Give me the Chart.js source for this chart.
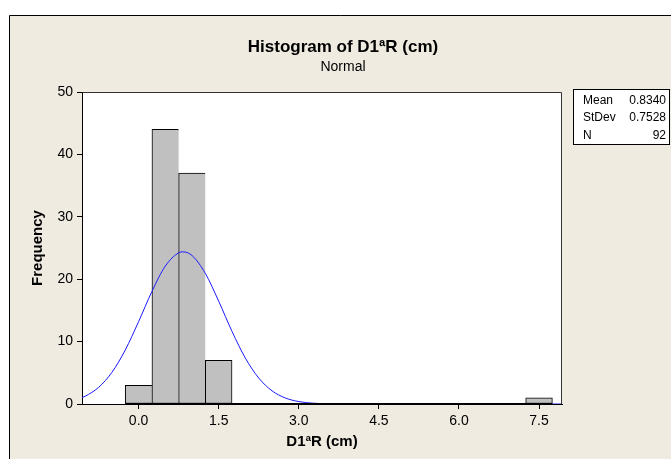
<!DOCTYPE html>
<html><head><meta charset="utf-8">
<script src="https://cdn.jsdelivr.net/npm/chart.js@4.4.1/dist/chart.umd.min.js"></script>
<style>html,body{margin:0;padding:0;background:#fff}canvas{display:block}</style>
</head><body>
<canvas id="c" width="671" height="459"></canvas>
<script>
const binCenters = [0.0,0.5,1.0,1.5,2.0,2.5,3.0,3.5,4.0,4.5,5.0,5.5,6.0,6.5,7.0,7.5];
const frequencies = [3,44,37,7,0,0,0,0,0,0,0,0,0,0,0,1];
const binWidth = 0.5;
const xTicks = [0.0,1.5,3.0,4.5,6.0,7.5];
const yTicks = [0,10,20,30,40,50];
const curveX = [-1.1,-1.0,-0.75,-0.5,-0.25,0.0,0.25,0.5,0.75,0.834,1.0,1.25,1.5,1.75,2.0,2.25,2.5,2.75,3.0,3.25,3.5,3.75,4.0,8.0];
const curveY = [0.90,1.25,2.66,5.07,8.65,13.20,18.04,22.10,24.23,24.38,23.80,20.93,16.48,11.63,7.35,4.16,2.11,0.96,0.39,0.14,0.05,0.01,0,0];
const statLabels = ['Mean','StDev','N'];
const statValues = ['0.8340','0.7528','92'];
const titleText = 'Histogram of D1ªR (cm)';
const subtitleText = 'Normal';
const xTitle = 'D1ªR (cm)';
const yTitle = 'Frequency';

const FONT = "'Liberation Sans', Arial, sans-serif";
const BG = '#efebe1';

const framePlugin = {
  id: 'frame',
  beforeDraw(chart) {
    const {ctx, width, height, chartArea: a} = chart;
    ctx.save();
    ctx.fillStyle = '#fff';
    ctx.fillRect(0, 0, width, height);
    ctx.fillStyle = BG;
    ctx.fillRect(9, 15, width, height);
    ctx.strokeStyle = '#000';
    ctx.lineWidth = 1;
    ctx.beginPath();
    ctx.moveTo(9.5, height); ctx.lineTo(9.5, 15.5); ctx.lineTo(width, 15.5);
    ctx.stroke();
    ctx.fillStyle = '#fff';
    ctx.fillRect(a.left, a.top, a.right - a.left, a.bottom - a.top);
    ctx.restore();
  },
  afterDatasetsDraw(chart) {
    const {ctx, chartArea: a, scales: {x, y}} = chart;
    ctx.save();
    const y0 = Math.round(y.getPixelForValue(0)) - 0.5;
    ctx.strokeStyle = '#000';
    ctx.lineWidth = 1;
    ctx.beginPath();
    ctx.moveTo(x.getPixelForValue(binCenters[0] - binWidth / 2), y0);
    ctx.lineTo(x.getPixelForValue(binCenters[binCenters.length - 1] + binWidth / 2), y0);
    ctx.stroke();
    ctx.strokeStyle = '#333';
    ctx.beginPath();
    ctx.moveTo(Math.round(a.left) + 0.5, Math.round(a.top) + 0.5);
    ctx.lineTo(Math.round(a.right) - 0.5, Math.round(a.top) + 0.5);
    ctx.lineTo(Math.round(a.right) - 0.5, Math.round(a.bottom));
    ctx.stroke();
    const bx = 573.5, by = 89.5, bw = 96, bh = 55;
    ctx.fillStyle = '#fff';
    ctx.fillRect(bx, by, bw, bh);
    ctx.strokeStyle = '#000';
    ctx.strokeRect(bx, by, bw, bh);
    ctx.fillStyle = '#000';
    ctx.font = '12px ' + FONT;
    ctx.textBaseline = 'middle';
    statLabels.forEach((lab, i) => {
      const ty = 100.5 + i * 17.5;
      ctx.textAlign = 'left';
      ctx.fillText(lab, 583, ty);
      ctx.textAlign = 'right';
      ctx.fillText(statValues[i], 666, ty);
    });
    ctx.restore();
  }
};

new Chart(document.getElementById('c'), {
  type: 'bar',
  data: {
    datasets: [
      {
        type: 'line',
        order: 0,
        data: curveX.map((v, i) => ({x: v, y: curveY[i]})),
        borderColor: '#1a1aff',
        borderWidth: 1,
        pointRadius: 0,
        fill: false,
        cubicInterpolationMode: 'monotone'
      },
      {
        type: 'bar',
        order: 1,
        data: binCenters.map((v, i) => ({x: v, y: frequencies[i]})),
        backgroundColor: '#c0c0c0',
        borderColor: '#000',
        borderSkipped: false,
        borderWidth: (c) => {
          const nxt = frequencies[c.dataIndex + 1];
          return {top: 1, left: 1, bottom: 1, right: (nxt === undefined || nxt === 0) ? 1 : 0};
        },
        barPercentage: 1,
        categoryPercentage: 1
      }
    ]
  },
  options: {
    responsive: false,
    animation: false,
    events: [],
    layout: {padding: {left: 15, right: 0, top: 0, bottom: 0}},
    plugins: {
      legend: {display: false},
      tooltip: {enabled: false},
      title: {
        display: true,
        text: titleText,
        color: '#000',
        font: {family: FONT, size: 17, weight: 'bold', lineHeight: 1.2},
        padding: {top: 36.8, bottom: 0}
      },
      subtitle: {
        display: true,
        text: subtitleText,
        color: '#000',
        font: {family: FONT, size: 14, weight: 'normal', lineHeight: 1.2},
        padding: {top: 1.4, bottom: 16.6}
      }
    },
    scales: {
      x: {
        type: 'linear',
        offset: false,
        min: -1.06,
        max: 7.93,
        afterBuildTicks: (s) => { s.ticks = xTicks.map(v => ({value: v})); },
        afterFit: (s) => { s.height = 55; },
        ticks: {
          autoSkip: false, maxRotation: 0, padding: 4, color: '#000',
          font: {family: FONT, size: 14},
          callback: (v) => Number(v).toFixed(1)
        },
        grid: {display: true, offset: false, drawOnChartArea: false, drawTicks: true, tickLength: 5, color: '#000'},
        border: {display: true, color: '#000', width: 1},
        title: {
          display: true, text: xTitle, color: '#000',
          font: {family: FONT, size: 15, weight: 'bold', lineHeight: 1.2},
          padding: {top: 0, bottom: 8}
        }
      },
      y: {
        type: 'linear',
        position: 'left',
        min: 0,
        max: 50,
        afterBuildTicks: (s) => { s.ticks = yTicks.map(v => ({value: v})); },
        afterFit: (s) => { s.width = 67; },
        ticks: {padding: 4, color: '#000', font: {family: FONT, size: 14}},
        grid: {display: true, offset: false, drawOnChartArea: false, drawTicks: true, tickLength: 5, color: '#000'},
        border: {display: true, color: '#000', width: 1},
        title: {
          display: true, text: yTitle, color: '#000',
          font: {family: FONT, size: 15, weight: 'bold', lineHeight: 1.2},
          padding: {top: 14, bottom: 0}
        }
      },
      yR: {
        type: 'linear',
        position: 'right',
        display: true,
        afterFit: (s) => { s.width = 109; },
        ticks: {display: false},
        grid: {display: false},
        border: {display: false}
      }
    }
  },
  plugins: [framePlugin]
});
</script>
</body></html>
